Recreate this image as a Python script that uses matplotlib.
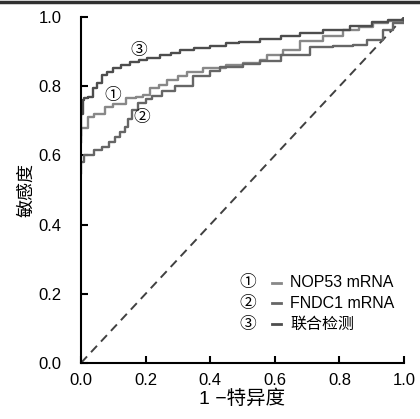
import matplotlib.pyplot as plt
from matplotlib.lines import Line2D

plt.rcParams['font.family'] = ['Liberation Sans', 'DejaVu Sans', 'Noto Sans CJK SC']

# ROC curves
fpr1 = [0, 0, 0.02, 0.02, 0.04, 0.074, 0.1, 0.14, 0.17, 0.193, 0.214, 0.24, 0.265,
        0.3, 0.327, 0.378, 0.45, 0.5, 0.554, 0.575, 0.625, 0.678, 0.75, 0.81,
        0.86, 0.904, 0.95, 1.0]
tpr1 = [0.66, 0.68, 0.68, 0.71, 0.72, 0.74, 0.75, 0.766, 0.77, 0.775, 0.795, 0.805,
        0.818, 0.83, 0.842, 0.852, 0.861, 0.868, 0.876, 0.89, 0.905, 0.93, 0.945,
        0.963, 0.972, 0.982, 0.99, 1.0]

fpr2 = [0, 0, 0.01, 0.022, 0.04, 0.064, 0.085, 0.105, 0.12, 0.136, 0.145, 0.157,
        0.177, 0.2, 0.219, 0.25, 0.291, 0.347, 0.4, 0.43, 0.5, 0.554, 0.62, 0.709,
        0.78, 0.842, 0.884, 0.935, 0.966, 1.0]
tpr2 = [0.55, 0.58, 0.6, 0.601, 0.615, 0.625, 0.64, 0.654, 0.668, 0.683, 0.705,
        0.731, 0.751, 0.762, 0.772, 0.786, 0.8, 0.83, 0.845, 0.856, 0.865, 0.873,
        0.89, 0.915, 0.918, 0.919, 0.933, 0.962, 0.982, 1.0]

fpr3 = [0, 0, 0.005, 0.01, 0.02, 0.037, 0.05, 0.064, 0.08, 0.1, 0.125, 0.152, 0.18,
        0.203, 0.245, 0.28, 0.307, 0.35, 0.4, 0.45, 0.49, 0.554, 0.62, 0.678, 0.75,
        0.833, 0.9, 0.95, 1.0]
tpr3 = [0.64, 0.72, 0.76, 0.765, 0.77, 0.795, 0.81, 0.832, 0.84, 0.852, 0.862, 0.87,
        0.876, 0.881, 0.89, 0.897, 0.905, 0.91, 0.917, 0.924, 0.929, 0.937, 0.945,
        0.953, 0.963, 0.975, 0.985, 0.992, 1.0]

labels = ['NOP53 mRNA', 'FNDC1 mRNA', '联合检测']
marks = ['①', '②', '③']
colors = ['#888888', '#666666', '#4d4d4d']
ticks = [0.0, 0.2, 0.4, 0.6, 0.8, 1.0]

CJK = ['Noto Sans CJK SC']
MIX = ['Liberation Sans', 'Noto Sans CJK SC']

fig = plt.figure(figsize=(4.2, 4.19), dpi=100)
ax = fig.add_axes([0.193, 0.134, 0.769, 0.825])

ax.plot([0, 1], [0, 1], ls=(0, (4.5, 3)), color='#404040', lw=1.4)
for f, t, c in zip([fpr1, fpr2, fpr3], [tpr1, tpr2, tpr3], colors):
    ax.plot(f, t, drawstyle='steps-post', color=c, lw=1.7)

# curve markers
ax.text(0.099, 0.772, '①', fontsize=12, ha='center', va='center', family=CJK)
ax.text(0.188, 0.711, '②', fontsize=12, ha='center', va='center', family=CJK)
ax.text(0.178, 0.903, '③', fontsize=12, ha='center', va='center', family=CJK)

# legend drawn as text rows
for i, (m, lab, c) in enumerate(zip(marks, labels, colors)):
    y = 0.232 - i * 0.06
    ax.text(0.515, y, m, fontsize=12, ha='center', va='center', family=CJK)
    ax.add_line(Line2D([0.59, 0.62], [y, y], color=c, lw=2))
    ax.text(0.648, y, lab, fontsize=11.5, ha='left', va='center', family=MIX)

ax.set_xlim(0, 1)
ax.set_ylim(0, 1)
ax.set_xticks(ticks)
ax.set_yticks(ticks)
ax.set_xticklabels([f'{v:.1f}' for v in ticks], fontsize=12)
ax.set_yticklabels([f'{v:.1f}' for v in ticks], fontsize=12)
ax.tick_params(direction='in', length=5, width=1.5)
ax.tick_params(axis='x', pad=7)
ax.tick_params(axis='y', pad=14)
for s in ['top', 'right']:
    ax.spines[s].set_visible(False)
for s in ['left', 'bottom']:
    ax.spines[s].set_linewidth(1.5)

ax.set_xlabel('1 −特异度', fontsize=14, labelpad=1, family=MIX)
ax.set_ylabel('敏感度', fontsize=13, labelpad=2, family=CJK)

# dark rule along the top edge
fig.add_artist(Line2D([0, 1], [0.996, 0.996], color='#303030', lw=2.5,
                      transform=fig.transFigure))

fig.savefig('out.png', dpi=100)
